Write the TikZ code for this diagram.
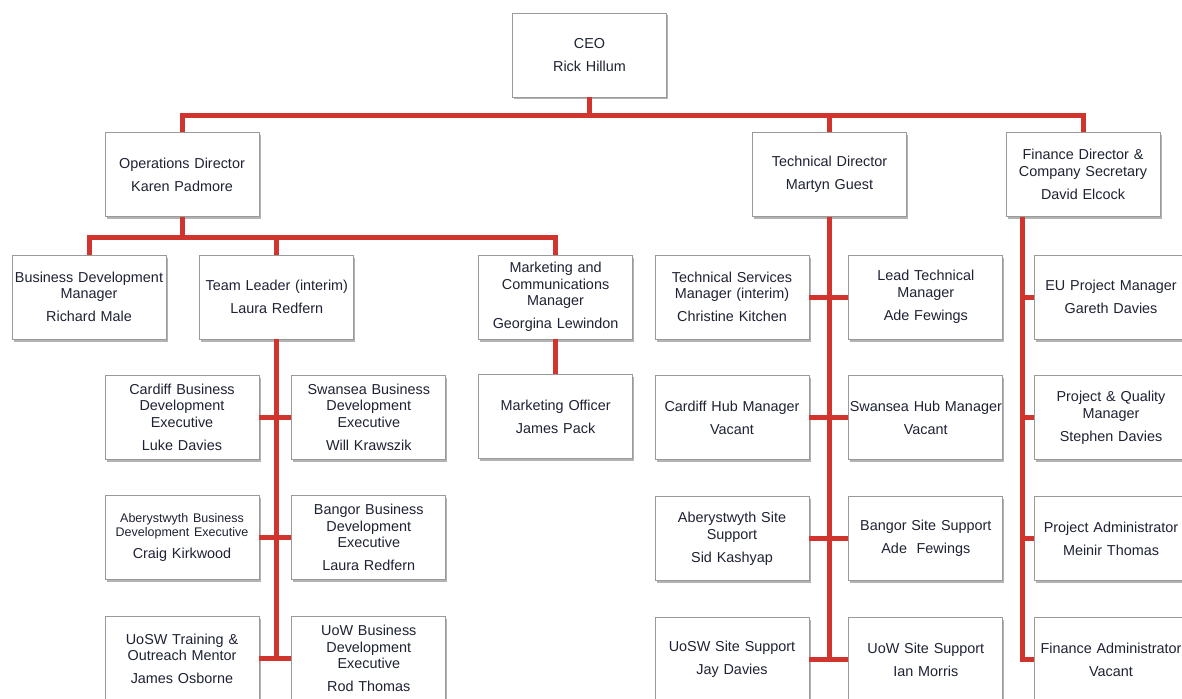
\documentclass[tikz,border=0pt]{standalone}
\usepackage{fontspec}
\setmainfont{Liberation Sans}
\usepackage{xcolor}
\definecolor{ink}{HTML}{1E2233}
\definecolor{edge}{HTML}{9A9A9A}
\definecolor{lnk}{HTML}{D0342C}
\usepackage{tikz}
\usetikzlibrary{positioning,shadows}
\newcommand{\boxfont}{\fontsize{14.4}{16.5}\selectfont}
\newcommand{\tinyfont}{\fontsize{12.5}{14}\selectfont}
\tikzset{
  box/.style={draw=edge,line width=0.8pt,fill=white,minimum height=84pt,text width=154pt,inner sep=0pt,align=center,font=\boxfont,text=ink,
    drop shadow={shadow xshift=1.5pt,shadow yshift=-2.5pt,fill=black!50,opacity=0.6}},
  link/.style={draw=lnk,line width=5pt},
}

\begin{document}
\begin{tikzpicture}[x=1pt,y=-1pt,node distance=36pt and 32pt]
\path[use as bounding box,clip] (0,0) rectangle (1182,698);
\node[box] (ceo) at (589.5,55) {CEO\\[6.5pt]Rick Hillum};
\node[box] (ops) at (182,174.5) {Operations Director\\[6.5pt]Karen Padmore};
\node[box] (tech) at (829.5,174.5) {Technical Director\\[6.5pt]Martyn Guest};
\node[box] (fin) at (1083,174.5) {Finance Director \&\\Company Secretary\\[6.5pt]David Elcock};
\node[box] (bdm) at (89,297) {Business Development\\Manager\\[6.5pt]Richard Male};
\node[box,right=33pt of bdm] (tl) {Team Leader (interim)\\[6.5pt]Laura Redfern};
\node[box,right=124pt of tl] (mcm) {Marketing and\\Communications\\Manager\\[6.5pt]Georgina Lewindon};
\node[box,below=35pt of mcm] (mo) {Marketing Officer\\[6.5pt]James Pack};
\node[box] (cbd) at (182,417) {Cardiff Business\\Development\\Executive\\[6.5pt]Luke Davies};
\node[box,right=of cbd] (sbd) {Swansea Business\\Development\\Executive\\[6.5pt]Will Krawszik};
\node[box,below=of cbd] (abd) {\tinyfont Aberystwyth Business\\Development Executive\\[5.5pt]\boxfont Craig Kirkwood};
\node[box,below=of sbd] (bbd) {Bangor Business\\Development\\Executive\\[6.5pt]Laura Redfern};
\node[box,below=of abd] (utm) {UoSW Training \&\\Outreach Mentor\\[6.5pt]James Osborne};
\node[box,below=of bbd] (ubd) {UoW Business\\Development\\Executive\\[6.5pt]Rod Thomas};
\node[box] (tsm) at (732,297) {Technical Services\\Manager (interim)\\[6.5pt]Christine Kitchen};
\node[box,right=39pt of tsm] (ltm) {Lead Technical\\Manager\\[6.5pt]Ade Fewings};
\node[box,below=of tsm] (chm) {Cardiff Hub Manager\\[6.5pt]Vacant};
\node[box,below=of ltm] (shm) {\mbox{Swansea Hub Manager}\\[6.5pt]Vacant};
\node[box,below=of chm] (ass) {Aberystwyth Site\\Support\\[6.5pt]Sid Kashyap};
\node[box,below=of shm] (bss) {Bangor Site Support\\[6.5pt]Ade\ \ Fewings};
\node[box,below=of ass] (uss) {UoSW Site Support\\[6.5pt]Jay Davies};
\node[box,below=of bss] (wss) {UoW Site Support\\[6.5pt]Ian Morris};
\node[box] (eu) at (1111,297) {EU Project Manager\\[6.5pt]Gareth Davies};
\node[box,below=of eu] (pqm) {Project \& Quality\\Manager\\[6.5pt]Stephen Davies};
\node[box,below=of pqm] (pa) {Project Administrator\\[6.5pt]Meinir Thomas};
\node[box,below=of pa] (fa) {Finance Administrator\\[6.5pt]Vacant};
\coordinate[below=18pt of ceo] (top);
\coordinate[below=20.5pt of ops] (obus);
\coordinate[right=17pt of fin.south west] (fv);
\draw[link] (ceo) -- (top); \draw[link] (ops) |- (top) -| (fin); \draw[link] (tech) -- (tech |- top);
\draw[link] (ops) -- (obus); \draw[link] (bdm) |- (obus) -| (mcm); \draw[link] (tl) -- (tl |- obus);
\draw[link] (mcm) -- (mo);
\draw[link] (tl) -- (tl |- utm);
\draw[link] (cbd) -- (sbd); \draw[link] (abd) -- (bbd); \draw[link] (utm) -- (ubd);
\draw[link] (tech) -- (tech |- uss);
\draw[link] (tsm) -- (ltm); \draw[link] (chm) -- (shm); \draw[link] (ass) -- (bss); \draw[link] (uss) -- (wss);
\draw[link] (fv) |- (fa); \draw[link] (fv |- eu) -- (eu); \draw[link] (fv |- pqm) -- (pqm); \draw[link] (fv |- pa) -- (pa);
\end{tikzpicture}
\end{document}
